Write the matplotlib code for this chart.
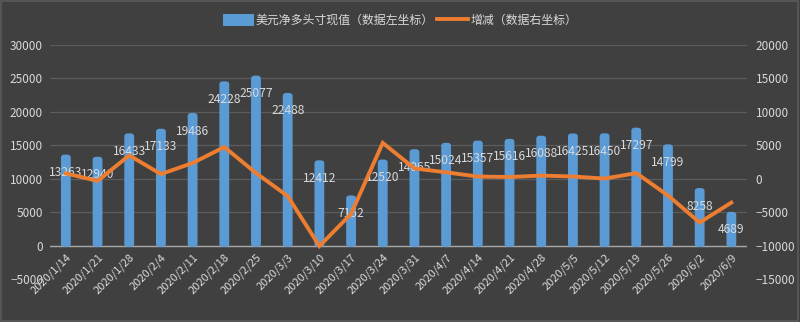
import matplotlib.pyplot as plt
from matplotlib.patches import FancyBboxPatch
from matplotlib.lines import Line2D
from matplotlib.patches import Patch

plt.rcParams['font.family'] = ['Noto Sans CJK SC', 'DejaVu Sans']

dates = ['2020/1/14', '2020/1/21', '2020/1/28', '2020/2/4', '2020/2/11', '2020/2/18',
         '2020/2/25', '2020/3/3', '2020/3/10', '2020/3/17', '2020/3/24', '2020/3/31',
         '2020/4/7', '2020/4/14', '2020/4/21', '2020/4/28', '2020/5/5', '2020/5/12',
         '2020/5/19', '2020/5/26', '2020/6/2', '2020/6/9']
net_long = [13263, 12940, 16433, 17133, 19486, 24228, 25077, 22488, 12412, 7152, 12520,
            14065, 15024, 15357, 15616, 16088, 16425, 16450, 17297, 14799, 8258, 4689]
change = [800, -323, 3493, 700, 2353, 4742, 849, -2589, -10076, -5260, 5368,
          1545, 959, 333, 259, 472, 337, 25, 847, -2498, -6541, -3569]

bg = '#404040'
txt = '#d9d9d9'
blue = '#5b9bd5'
orange = '#ed7d31'

fig = plt.figure(figsize=(8, 3.22), dpi=100, facecolor=bg)
fig.patches.append(plt.Rectangle((0.001, 0.002), 0.997, 0.995, transform=fig.transFigure,
                                 fill=False, edgecolor='#5a5a5a', lw=1.2))
ax = fig.add_axes([0.0625, 0.1335, 0.8715, 0.7265])
ax.set_facecolor(bg)
ax2 = ax.twinx()

n = len(dates)
ax.set_xlim(-0.5, n - 0.5)
ax.set_ylim(-5000, 30000)
ax2.set_ylim(-15000, 20000)

for v in range(-5000, 30001, 5000):
    ax.axhline(v, color='#5c5c5c', lw=0.9, zorder=0)
ax.axhline(0, color='#a6a6a6', lw=1.0, zorder=1)

# rounded "cylinder" bars
w = 0.31
for i, v in enumerate(net_long):
    p = FancyBboxPatch((i - w / 2, -200), w, v + 550,
                       boxstyle='round,pad=0,rounding_size=0.11',
                       mutation_aspect=4200, facecolor=blue, edgecolor='none', zorder=2)
    ax.add_patch(p)
    ax.text(i, v - 2350, str(v), ha='center', va='center', color=txt, fontsize=8.7, zorder=5)

ax2.plot(range(n), change, color=orange, lw=2.8, solid_joinstyle='miter', zorder=4)

for i, d in enumerate(dates):
    ax.text(i + 0.12, -1500, d, rotation=45, ha='right', va='center', rotation_mode='anchor',
            color=txt, fontsize=8)

ax.set_xticks([])
ax.set_yticks(range(-5000, 30001, 5000))
ax2.set_yticks(range(-15000, 20001, 5000))
ax.tick_params(axis='y', length=0, colors=txt, labelsize=8.5, pad=5)
ax2.tick_params(axis='y', length=0, colors=txt, labelsize=8.5, pad=6)
for a in (ax, ax2):
    for s in a.spines.values():
        s.set_visible(False)

handles = [Patch(facecolor=blue, edgecolor='none'), Line2D([0], [0], color=orange, lw=2.8)]
labels = ['美元净多头寸现值（数据左坐标）', '增减（数据右坐标）']
fig.legend(handles, labels, loc='upper center', bbox_to_anchor=(0.5, 0.99), ncol=2,
           frameon=False, fontsize=8.6, labelcolor=txt, handlelength=2.6, handleheight=1.1,
           columnspacing=0.3, handletextpad=0.15)

fig.savefig('out.png', dpi=100, facecolor=bg)
